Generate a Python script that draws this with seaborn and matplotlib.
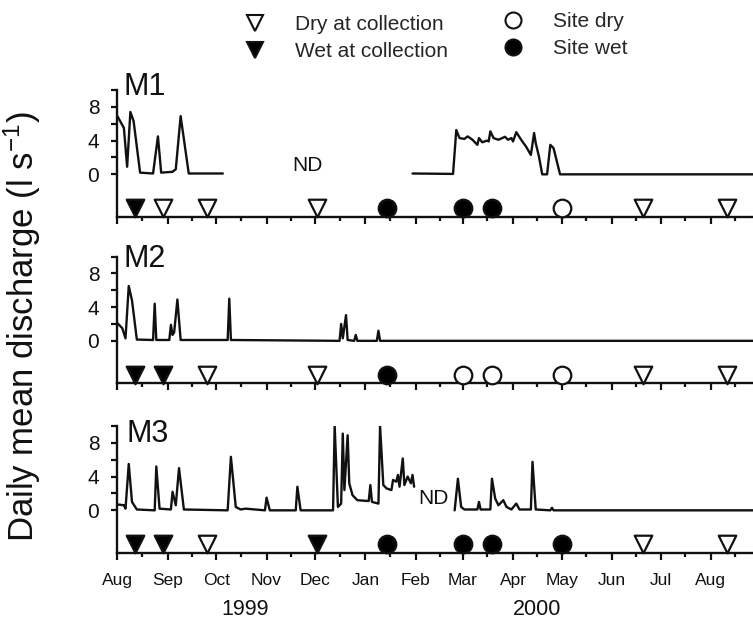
import pandas as pd
import matplotlib
matplotlib.use("Agg")
import matplotlib.pyplot as plt
import matplotlib.dates as mdates
import matplotlib.transforms as mtransforms
from matplotlib.lines import Line2D
import seaborn as sns

sns.set_theme(style="ticks")
plt.rcParams["font.family"] = ["Liberation Sans", "DejaVu Sans"]
plt.rcParams["mathtext.fontset"] = "custom"
plt.rcParams["mathtext.rm"] = "Liberation Sans"
plt.rcParams["mathtext.it"] = "Liberation Sans:italic"
plt.rcParams["mathtext.default"] = "regular"

# ---------------------------------------------------------------------------
# Daily mean discharge (l/s) at the three sites; gaps are periods with no data
# ---------------------------------------------------------------------------
m1_a_dates = ["1999-08-01", "1999-08-05", "1999-08-07", "1999-08-09", "1999-08-11",
              "1999-08-15", "1999-08-23", "1999-08-26", "1999-08-28", "1999-09-04",
              "1999-09-06", "1999-09-09", "1999-09-14", "1999-10-05"]
m1_a_flow = [6.9, 5.5, 0.9, 7.4, 6.3, 0.2, 0.1, 4.5, 0.2, 0.3, 0.6, 6.9, 0.1, 0.1]

m1_b_dates = ["2000-01-30", "2000-02-24", "2000-02-26", "2000-02-28", "2000-03-02",
              "2000-03-04", "2000-03-07", "2000-03-10", "2000-03-11", "2000-03-13",
              "2000-03-16", "2000-03-17", "2000-03-18", "2000-03-20", "2000-03-23",
              "2000-03-27", "2000-03-29", "2000-03-31", "2000-04-01", "2000-04-03",
              "2000-04-06", "2000-04-09", "2000-04-12", "2000-04-14", "2000-04-15",
              "2000-04-17", "2000-04-19", "2000-04-22", "2000-04-24", "2000-04-26",
              "2000-04-30", "2000-08-27"]
m1_b_flow = [0.1, 0.05, 5.25, 4.3, 4.2, 4.5, 4.1, 3.5, 4.3, 3.8,
             4.0, 3.9, 5.1, 4.3, 4.1, 4.45, 4.1, 4.3, 3.9, 5.0,
             4.1, 3.3, 2.3, 4.9, 3.7, 2.1, 0.0, 0.0, 3.5, 3.1,
             0.0, 0.0]

m2_dates = ["1999-08-01", "1999-08-04", "1999-08-06", "1999-08-08", "1999-08-10",
            "1999-08-13", "1999-08-23", "1999-08-24", "1999-08-25", "1999-09-02",
            "1999-09-03", "1999-09-04", "1999-09-05", "1999-09-07", "1999-09-09",
            "1999-10-08", "1999-10-09", "1999-10-10", "1999-12-16", "1999-12-17",
            "1999-12-18", "1999-12-20", "1999-12-21", "1999-12-25", "1999-12-26",
            "1999-12-27", "2000-01-08", "2000-01-09", "2000-01-10", "2000-08-27"]
m2_flow = [2.1, 1.5, 0.3, 6.5, 4.8, 0.15, 0.1, 4.4, 0.1, 0.1,
           1.9, 0.7, 1.0, 4.9, 0.1, 0.1, 5.0, 0.1, 0.0, 2.0,
           0.3, 3.05, 0.1, 0.0, 0.7, 0.0, 0.0, 1.2, 0.0, 0.0]

m3_a_dates = ["1999-08-01", "1999-08-05", "1999-08-06", "1999-08-08", "1999-08-10",
              "1999-08-13", "1999-08-24", "1999-08-25", "1999-08-27", "1999-09-03",
              "1999-09-04", "1999-09-06", "1999-09-08", "1999-09-11", "1999-10-08",
              "1999-10-10", "1999-10-13", "1999-10-16", "1999-10-19", "1999-10-31",
              "1999-11-01", "1999-11-03", "1999-11-19", "1999-11-20", "1999-11-22",
              "1999-12-12", "1999-12-13", "1999-12-15", "1999-12-17", "1999-12-18",
              "1999-12-19", "1999-12-21", "1999-12-22", "1999-12-24", "1999-12-27",
              "2000-01-03", "2000-01-04", "2000-01-05", "2000-01-09", "2000-01-10",
              "2000-01-12", "2000-01-14", "2000-01-17", "2000-01-18", "2000-01-20",
              "2000-01-21", "2000-01-22", "2000-01-24", "2000-01-25", "2000-01-27",
              "2000-01-29", "2000-01-30", "2000-01-31"]
m3_a_flow = [0.7, 0.6, 0.2, 5.5, 1.0, 0.1, 0.0, 5.2, 0.2, 0.1,
             2.2, 0.6, 5.0, 0.1, 0.0, 6.35, 0.4, 0.1, 0.2, 0.0,
             1.5, 0.0, 0.0, 2.8, 0.0, 0.0, 10.0, 0.4, 0.8, 9.1,
             2.4, 8.9, 3.2, 1.8, 1.2, 1.1, 3.0, 1.0, 0.8, 10.0,
             3.0, 2.6, 2.4, 3.6, 3.4, 4.2, 2.8, 6.15, 3.0, 4.0,
             3.2, 4.2, 2.8]

m3_b_dates = ["2000-02-25", "2000-02-27", "2000-02-29", "2000-03-02", "2000-03-10",
              "2000-03-11", "2000-03-12", "2000-03-18", "2000-03-19", "2000-03-21",
              "2000-03-23", "2000-03-26", "2000-03-28", "2000-03-31", "2000-04-03",
              "2000-04-05", "2000-04-12", "2000-04-13", "2000-04-15", "2000-04-24",
              "2000-04-25", "2000-04-26", "2000-08-27"]
m3_b_flow = [0.0, 3.75, 0.4, 0.1, 0.1, 1.0, 0.1, 0.1, 3.75, 1.4,
             0.6, 1.2, 0.4, 0.1, 0.8, 0.1, 0.1, 5.75, 0.1, 0.0,
             0.3, 0.0, 0.0]

# Sampling visits and the condition recorded at each site
visit_dates = ["1999-08-12", "1999-08-29", "1999-09-25", "1999-12-02", "2000-01-14",
               "2000-03-01", "2000-03-19", "2000-05-01", "2000-06-20", "2000-08-11"]
DRY, WET, SDRY, SWET = "Dry at collection", "Wet at collection", "Site dry", "Site wet"
m1_status = [WET, DRY, DRY, DRY, SWET, SWET, SWET, SDRY, DRY, DRY]
m2_status = [WET, WET, DRY, DRY, SWET, SDRY, SDRY, SDRY, DRY, DRY]
m3_status = [WET, WET, DRY, WET, SWET, SWET, SWET, SWET, DRY, DRY]

site_names = ["M1", "M2", "M3"]
nd_notes = {"M1": ("1999-11-26", 1.0), "M3": ("2000-02-12", 1.4)}
year_labels = ["1999", "2000"]
year_label_dates = ["1999-10-19", "2000-04-16"]


def flow_frame(*segments):
    parts = []
    for i, (dates, flow) in enumerate(segments):
        parts.append(pd.DataFrame({"date": pd.to_datetime(dates), "flow": flow, "segment": i}))
    return pd.concat(parts, ignore_index=True)


flows = {
    "M1": flow_frame((m1_a_dates, m1_a_flow), (m1_b_dates, m1_b_flow)),
    "M2": flow_frame((m2_dates, m2_flow)),
    "M3": flow_frame((m3_a_dates, m3_a_flow), (m3_b_dates, m3_b_flow)),
}
visits = {
    name: pd.DataFrame({"date": pd.to_datetime(visit_dates), "status": status})
    for name, status in zip(site_names, [m1_status, m2_status, m3_status])
}

marker_style = {
    DRY: dict(marker="v", color="white"),
    WET: dict(marker="v", color="black"),
    SDRY: dict(marker="o", color="white"),
    SWET: dict(marker="o", color="black"),
}
MARKER_ROW = -4.0
INK = "#111111"

fig = plt.figure(figsize=(7.53, 6.24), dpi=100)
W, H = 753, 624
left_px = 117.4
panel_tops = [90, 256.5, 426]
panel_h = 126.5
x0, x1 = pd.Timestamp("1999-08-01"), pd.Timestamp("2000-08-27")

axes = []
for name, top in zip(site_names, panel_tops):
    ax = fig.add_axes([left_px / W, 1 - (top + panel_h) / H, 1 - left_px / W, panel_h / H])
    axes.append(ax)
    sns.lineplot(data=flows[name], x="date", y="flow", units="segment", estimator=None,
                 color=INK, lw=1.7, ax=ax, legend=False)
    for status, sub in visits[name].groupby("status"):
        sub = sub.assign(row=MARKER_ROW)
        st = marker_style[status]
        sns.scatterplot(data=sub, x="date", y="row", marker=st["marker"], color=st["color"],
                        edgecolor=INK, linewidth=1.6, s=160, ax=ax, legend=False,
                        clip_on=False, zorder=4)
    ax.set_xlim(x0, x1)
    ax.set_ylim(-5, 10)
    ax.set_yticks(range(0, 11, 2))
    ax.set_yticklabels(["0", "", "4", "", "8", ""])
    ax.set_xlabel("")
    ax.set_ylabel("")
    ax.xaxis.set_major_locator(mdates.MonthLocator())
    ax.xaxis.set_minor_locator(mdates.MonthLocator(bymonthday=16))
    ax.xaxis.set_major_formatter(mdates.DateFormatter("%b"))
    for side in ["top", "right"]:
        ax.spines[side].set_visible(False)
    for side in ["left", "bottom"]:
        ax.spines[side].set_linewidth(1.7)
        ax.spines[side].set_color(INK)
    ax.tick_params(axis="y", which="major", length=4, width=1.6, pad=9, labelsize=15,
                   colors=INK)
    ax.tick_params(axis="x", which="major", length=5, width=1.6, pad=10, labelsize=12.5,
                   colors=INK)
    ax.tick_params(axis="x", which="minor", length=3, width=1.6, colors=INK)
    ax.patch.set_alpha(0)
    if name != "M3":
        ax.tick_params(axis="x", which="both", labelbottom=False)
    if name in nd_notes:
        d, lvl = nd_notes[name]
        ax.text(mdates.date2num(pd.Timestamp(d)), lvl, "ND", ha="center", va="center",
                fontsize=15, color=INK)

# Panel names
for name, (xp, yb) in zip(site_names, [(123, 95), (123, 267), (126.5, 442)]):
    fig.text(xp / W, 1 - yb / H, name, fontsize=22, ha="left", va="baseline", color=INK)

# Years under the month labels
ax3 = axes[-1]
trans = mtransforms.blended_transform_factory(ax3.transData, ax3.transAxes)
for label, d in zip(year_labels, year_label_dates):
    ax3.text(mdates.date2num(pd.Timestamp(d)), -0.45, label, transform=trans,
             ha="center", va="center", fontsize=15.5, color=INK)

fig.text(22 / W, 1 - 327 / H, "Daily mean discharge (l s$^{-1}$)", rotation=90,
         ha="center", va="center", fontsize=25, color=INK)

# Legend in two columns
def handle(status):
    st = marker_style[status]
    return Line2D([], [], linestyle="none", marker=st["marker"], markersize=11.5,
                  markerfacecolor=st["color"], markeredgecolor=INK, markeredgewidth=1.5)

legend_kw = dict(frameon=False, fontsize=15, handlelength=1.2, handletextpad=1.3,
                 labelspacing=0.38, borderpad=0, borderaxespad=0, loc="upper left")
fig.legend(handles=[handle(DRY), handle(WET)], labels=[DRY, WET],
           bbox_to_anchor=(242.5 / W, 1 - 15 / H), **legend_kw)
fig.legend(handles=[handle(SDRY), handle(SWET)], labels=[SDRY, SWET],
           bbox_to_anchor=(500.5 / W, 1 - 12 / H), **legend_kw)

fig.savefig("out.png", dpi=100)
